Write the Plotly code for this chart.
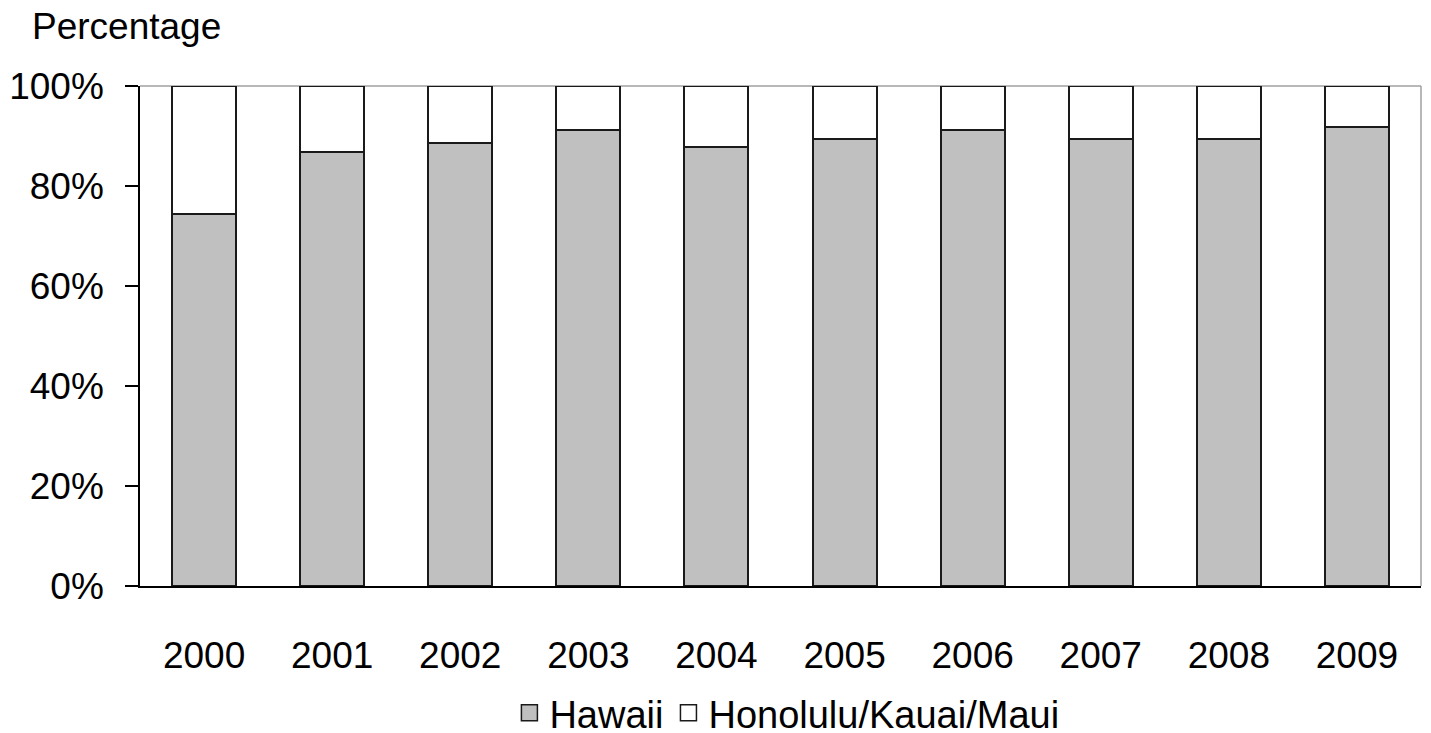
import plotly.graph_objects as go

years = ["2000", "2001", "2002", "2003", "2004", "2005", "2006", "2007", "2008", "2009"]
hawaii = [74.4, 86.9, 88.7, 91.2, 87.9, 89.4, 91.2, 89.4, 89.4, 91.9]
honolulu_kauai_maui = [25.6, 13.1, 11.3, 8.8, 12.1, 10.6, 8.8, 10.6, 10.6, 8.1]
y_ticks = [0, 20, 40, 60, 80, 100]
y_tick_labels = ["0%", "20%", "40%", "60%", "80%", "100%"]

FONT = "Liberation Sans, Arial, sans-serif"
EDGE = "#1a1a1a"
series = [("Hawaii", hawaii, "#C0C0C0"), ("Honolulu/Kauai/Maui", honolulu_kauai_maui, "#FFFFFF")]

fig = go.Figure()
for name, vals, col in series:
    fig.add_trace(go.Bar(
        x=years, y=vals, name=name, showlegend=False,
        marker=dict(color=col, line=dict(color=EDGE, width=2)),
    ))
# legend entries with larger square swatches
for name, vals, col in series:
    fig.add_trace(go.Scatter(
        x=[None], y=[None], mode="markers", name=name,
        marker=dict(symbol="square", size=18, color=col, line=dict(color=EDGE, width=1.5)),
    ))

# gray frame on top and right of plot area
fig.add_shape(type="line", xref="x domain", yref="y domain", x0=0, x1=1, y0=1, y1=1,
              line=dict(color="#A0A0A0", width=1.5), layer="below")
fig.add_shape(type="line", xref="x domain", yref="y domain", x0=1, x1=1, y0=0, y1=1,
              line=dict(color="#A0A0A0", width=1.5), layer="below")

fig.add_annotation(text="Percentage", xref="paper", yref="paper",
                   x=-110 / 1281, y=1.118, xanchor="left", yanchor="middle",
                   showarrow=False, font=dict(family=FONT, size=37, color="black"))

fig.update_layout(
    width=1423, height=725,
    margin=dict(l=132, r=10, t=78, b=147, autoexpand=False),
    barmode="stack", bargap=0.5,
    plot_bgcolor="white", paper_bgcolor="white",
    font=dict(family=FONT, size=37, color="black"),
    showlegend=True,
    legend=dict(orientation="h", x=0.505, xanchor="center", y=-0.254, yanchor="middle",
                font=dict(family=FONT, size=38, color="black"), traceorder="normal",
                itemwidth=30, bgcolor="rgba(0,0,0,0)"),
    xaxis=dict(showline=True, linecolor="black", linewidth=1.5, ticks="",
               showgrid=False, ticklabelstandoff=36, tickfont=dict(size=37),
               automargin=False),
    yaxis=dict(range=[0, 100], tickvals=y_ticks, ticktext=y_tick_labels, showgrid=False,
               showline=True, linecolor="black", linewidth=1.5,
               ticks="outside", ticklen=13, tickwidth=1.5, tickcolor="black",
               ticklabelstandoff=14, tickfont=dict(size=37), zeroline=False,
               automargin=False),
)

fig.write_html("out.html")
